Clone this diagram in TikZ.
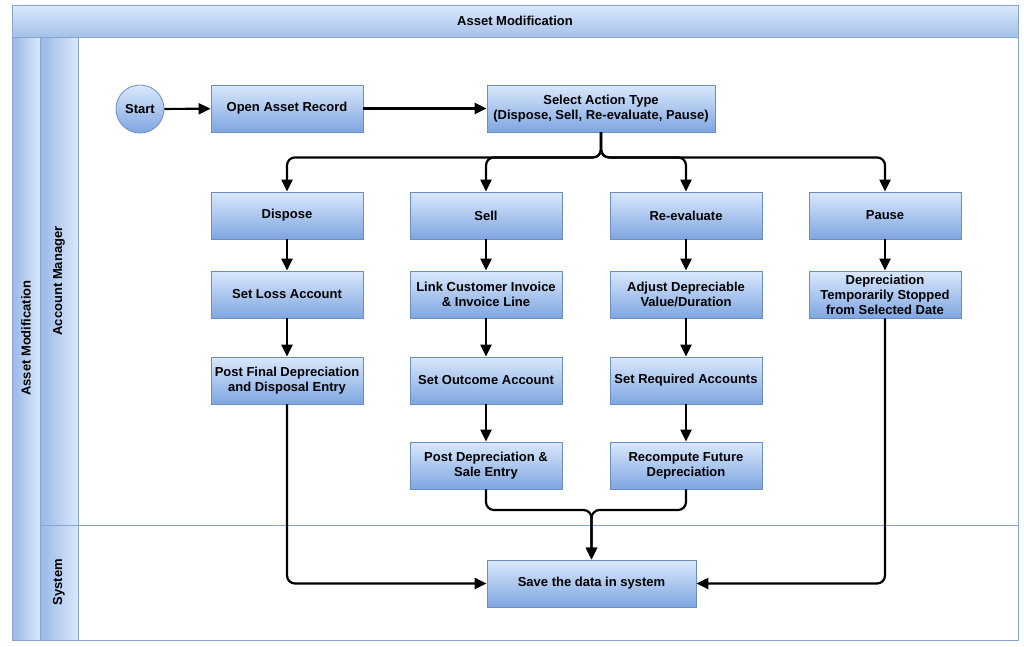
\documentclass[tikz,border=0pt]{standalone}
\usepackage{fontspec}
\setmainfont{Liberation Sans}
\usetikzlibrary{arrows.meta}
\definecolor{boxtop}{HTML}{DAE8FC}
\definecolor{boxbot}{HTML}{7EA6E0}
\definecolor{boxline}{HTML}{6C8EBF}
\tikzset{
  task/.style = {draw=boxline, line width=0.8pt, top color=boxtop, bottom color=boxbot,
                 minimum width=152pt, minimum height=47pt, align=center,
                 font=\fontsize{13}{15}\selectfont\bfseries, inner sep=1pt},
  start/.style = {circle, draw=boxline, line width=0.8pt, top color=boxtop,
                  bottom color=boxbot, minimum size=48pt, inner sep=0,
                  font=\fontsize{13}{15}\selectfont\bfseries},
  lane/.style = {draw=boxline!80, line width=0.8pt},
  band/.style = {lane, left color=boxbot!80, right color=boxtop},
  flow/.style = {line width=2.2pt, -{Triangle[length=12pt,width=11pt]}, rounded corners=8pt},
  lanetext/.style = {font=\fontsize{13}{15}\selectfont\bfseries},
}
\begin{document}
\begin{tikzpicture}[x=1pt,y=-1pt]
\useasboundingbox (0,0) rectangle (1024,646);
% swimlanes
\draw[lane, fill=white] (12,5) rectangle (1018,640);
\draw[lane, top color=boxtop, bottom color=boxbot!70] (12,5) rectangle (1018,37);
\draw[band] (12,37) rectangle (40,640);
\draw[band] (40,37) rectangle (78,525);
\draw[band] (40,525) rectangle (78,640);
\draw[lane] (78,525) -- (1018,525);
\node[lanetext] (title) at (515,21) {Asset Modification};
\node[lanetext, rotate=90] (pool) at (26,338) {Asset Modification};
\node[lanetext, rotate=90] (mgr) at (59,281) {Account Manager};
\node[lanetext, rotate=90] (sys) at (59,582) {System};
% nodes
\node[start] (st) at (140,109) {Start};
\node[task] (open) at (287,108.5) {Open Asset Record};
\node[task, minimum width=228pt] (sel) at (601,108.5) {Select Action Type\\(Dispose, Sell, Re-evaluate, Pause)};
\node[task] (disp) at (287,215.5) {Dispose};
\node[task] (sell) at (486,215.5) {Sell};
\node[task] (reev) at (686,215.5) {Re-evaluate};
\node[task] (pause) at (885,215.5) {Pause};
\node[task] (loss) at (287,294.5) {Set Loss Account};
\node[task] (link) at (486,294.5) {Link Customer Invoice\\\& Invoice Line};
\node[task] (adj) at (686,294.5) {Adjust Depreciable\\Value/Duration};
\node[task] (stop) at (885,294.5) {Depreciation\\Temporarily Stopped\\from Selected Date};
\node[task] (final) at (287,380.5) {Post Final Depreciation\\and Disposal Entry};
\node[task] (outc) at (486,380.5) {Set Outcome Account};
\node[task] (req) at (686,380.5) {Set Required Accounts};
\node[task] (sale) at (486,465.5) {Post Depreciation \&\\Sale Entry};
\node[task] (recomp) at (686,465.5) {Recompute Future\\Depreciation};
\node[task, minimum width=209pt] (save) at (591.5,583.5) {Save the data in system};
% connectors
\draw[flow] (st) -- (open);
\draw[flow] (open) -- (sel);
\foreach \t in {disp,sell,reev,pause}
  \draw[flow] (sel.south) |- ++(0,25) -| (\t.north);
\draw[flow] (disp) -- (loss);
\draw[flow] (loss) -- (final);
\draw[flow] (sell) -- (link);
\draw[flow] (link) -- (outc);
\draw[flow] (outc) -- (sale);
\draw[flow] (reev) -- (adj);
\draw[flow] (adj) -- (req);
\draw[flow] (req) -- (recomp);
\draw[flow] (pause) -- (stop);
\draw[flow] (sale.south) |- (591.5,510) -- (save.north);
\draw[flow] (recomp.south) |- (591.5,510) -- (save.north);
\draw[flow] (final.south) |- (save.west);
\draw[flow] (stop.south) |- (save.east);
\end{tikzpicture}
\end{document}
